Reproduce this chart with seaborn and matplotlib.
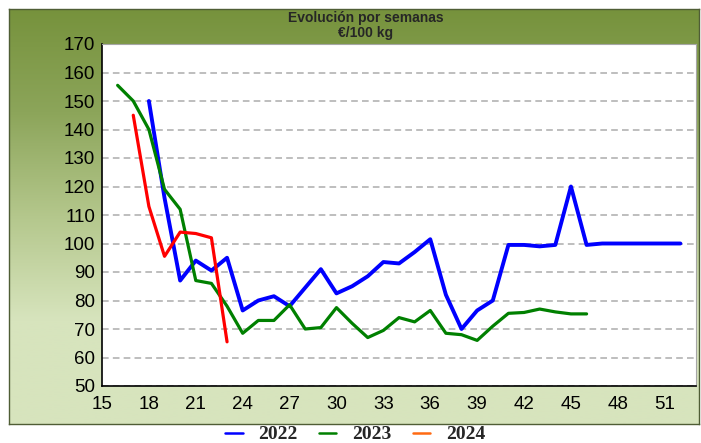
import numpy as np
import pandas as pd
import seaborn as sns
import matplotlib
matplotlib.use("Agg")
import matplotlib.pyplot as plt
from matplotlib.lines import Line2D

# weekly prices, €/100 kg
weeks_2022 = list(range(18, 53))
prices_2022 = [150, 116, 87, 94, 90.5, 95, 76.5, 80, 81.5, 78, 84.5, 91, 82.5, 85, 88.5,
               93.5, 93, 97, 101.5, 82, 70, 76.5, 80, 99.5, 99.5, 99, 99.5, 120, 99.5,
               100, 100, 100, 100, 100, 100]
weeks_2023 = list(range(16, 47))
prices_2023 = [155.5, 150, 140, 119, 112, 87, 86, 78, 68.5, 73, 73, 78.5, 70, 70.5, 77.5,
               72, 67, 69.5, 74, 72.5, 76.5, 68.5, 68, 66, 71, 75.5, 75.8, 77, 76, 75.3, 75.3]
weeks_2024 = list(range(17, 24))
prices_2024 = [145, 113, 95.5, 104, 103.5, 102, 65.5]

years = ["2022", "2023", "2024"]
line_colors = ["#0000ff", "#008000", "#ff0000"]
legend_colors = ["#0000ff", "#008000", "#ff6a13"]

df = pd.concat([
    pd.DataFrame({"semana": weeks_2022, "precio": prices_2022, "año": "2022"}),
    pd.DataFrame({"semana": weeks_2023, "precio": prices_2023, "año": "2023"}),
    pd.DataFrame({"semana": weeks_2024, "precio": prices_2024, "año": "2024"}),
])

sns.set_style("white")
plt.rcParams["font.family"] = ["Liberation Sans", "DejaVu Sans"]

W, H = 701, 443
fig = plt.figure(figsize=(W / 100, H / 100), dpi=100)
fig.patch.set_facecolor("white")

# gradient frame behind the chart, dark olive on top
bg = fig.add_axes([9 / W, (H - 424) / H, 690 / W, 415 / H], zorder=-1)
grad = np.linspace(0, 1, 256).reshape(-1, 1)
cmap = matplotlib.colors.LinearSegmentedColormap.from_list(
    "olive", ["#76923c", "#8ca55a", "#b4c78c", "#d7e4bd", "#d7e4bd"])
bg.imshow(grad, aspect="auto", cmap=cmap, extent=[0, 1, 1, 0], origin="upper")
bg.set_xlim(0, 1)
bg.set_ylim(1, 0)
bg.set_xticks([])
bg.set_yticks([])
for s in bg.spines.values():
    s.set_color("#4f5d35")
    s.set_linewidth(1.0)

ax = fig.add_axes([102 / W, (H - 386) / H, 594 / W, 342 / H])
ax.set_facecolor("white")

for yr, c in zip(years, line_colors):
    sub = df[df["año"] == yr]
    sns.lineplot(data=sub, x="semana", y="precio", color=c,
                 linewidth=2.8 if yr == "2022" else 2.3, ax=ax, legend=False)

ax.set_xlim(15, 53)
ax.set_ylim(50, 170)
ax.set_xticks(range(15, 53, 3))
ax.set_xticks(range(15, 54), minor=True)
ax.set_yticks(range(50, 171, 10))
ax.set_yticks(range(55, 170, 10), minor=True)
ax.tick_params(axis="both", which="both", direction="in", colors="black",
               labelsize=13.5, length=4, width=1)
ax.tick_params(axis="x", which="both", length=3, pad=7)
ax.tick_params(axis="y", pad=5)
ax.set_xlabel("")
ax.set_ylabel("")

ax.yaxis.grid(True, which="major", color="#b3b3b3", linewidth=1.2, linestyle=(0, (4, 2.5)))
ax.xaxis.grid(False)
ax.set_axisbelow(True)

ax.spines["left"].set_color("black")
ax.spines["bottom"].set_color("black")
ax.spines["left"].set_linewidth(1.2)
ax.spines["bottom"].set_linewidth(1.2)
ax.spines["top"].set_color("#a6a6a6")
ax.spines["right"].set_color("#a6a6a6")

fig.text(366 / W, 1 - 25.5 / H, "Evolución por semanas\n€/100 kg", ha="center", va="center",
         fontsize=10, fontweight="bold", linespacing=1.1)

handles = [Line2D([], [], color=c, linewidth=1.8) for c in legend_colors]
fig.legend(handles, years, loc="center", bbox_to_anchor=(355 / W, 8.5 / H), ncol=3,
           frameon=False, handlelength=0.9, handletextpad=0.8, columnspacing=1.1,
           borderpad=0.1, prop={"family": "Liberation Serif", "weight": "bold", "size": 14})

fig.savefig("out.png", dpi=100, facecolor="white")
